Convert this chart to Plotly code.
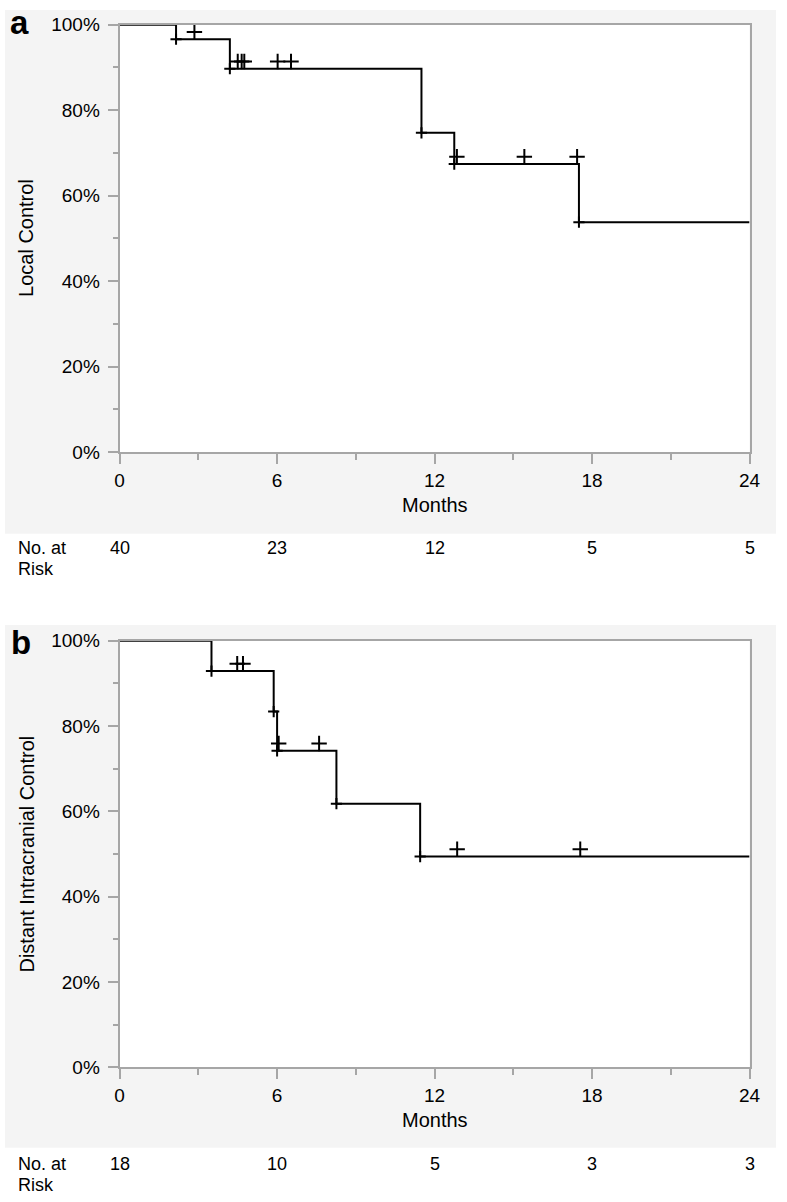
import plotly.graph_objects as go

# ---------------- data ----------------
# Panel a: Local Control
a_step_months = [0, 2.15, 4.2, 11.5, 12.75, 17.5, 24]
a_step_surv = [1.0, 0.966, 0.897, 0.747, 0.674, 0.538, 0.538]
a_event_months = [2.15, 4.2, 11.5, 12.75, 17.5]
a_event_surv = [0.966, 0.897, 0.747, 0.674, 0.538]
a_cens_months = [2.85, 4.5, 4.65, 4.75, 6.02, 6.53, 12.85, 15.42, 17.43]
a_cens_surv = [0.966, 0.897, 0.897, 0.897, 0.897, 0.897, 0.674, 0.674, 0.674]
a_risk_months = [0, 6, 12, 18, 24]
a_risk_n = [40, 23, 12, 5, 5]

# Panel b: Distant Intracranial Control
b_step_months = [0, 3.5, 5.87, 6.0, 8.26, 11.45, 24]
b_step_surv = [1.0, 0.929, 0.834, 0.742, 0.618, 0.494, 0.494]
b_event_months = [3.5, 5.87, 6.0, 8.26, 11.45]
b_event_surv = [0.929, 0.834, 0.742, 0.618, 0.494]
b_cens_months = [4.48, 4.7, 6.06, 7.6, 12.86, 17.55]
b_cens_surv = [0.929, 0.929, 0.742, 0.742, 0.494, 0.494]
b_risk_months = [0, 6, 12, 18, 24]
b_risk_n = [18, 10, 5, 3, 3]

x_ticks = [0, 6, 12, 18, 24]
y_ticks = [0, 0.2, 0.4, 0.6, 0.8, 1.0]
y_ticktext = ["0%", "20%", "40%", "60%", "80%", "100%"]

# ---------------- layout geometry (pixels) ----------------
W, H = 787, 1202
PX_L, PX_R = 117, 760
A_TOP, A_BOT = 15, 450
B_TOP, B_BOT = 642, 1076
CENS_OFFSET = 0.017   # censor marks drawn just above the curve

FONT = "Liberation Sans, Arial, Helvetica, sans-serif"
AXIS_GREY = "#a6a6a6"
BAND_GREY = "#f4f4f4"


def px_x(p):
    return p / W


def px_y(p):
    return 1 - p / H


fig = go.Figure()

panels = [
    ("x", "y", a_step_months, a_step_surv, a_event_months, a_event_surv, a_cens_months, a_cens_surv),
    ("x2", "y2", b_step_months, b_step_surv, b_event_months, b_event_surv, b_cens_months, b_cens_surv),
]
for xa, ya, sm, ss, em, es, cm, cs in panels:
    fig.add_trace(go.Scatter(x=sm, y=ss, mode="lines", line=dict(color="black", width=2, shape="hv"),
                             xaxis=xa, yaxis=ya, showlegend=False, hoverinfo="skip"))
    fig.add_trace(go.Scatter(x=em, y=es, mode="markers",
                             marker=dict(symbol="cross-thin", size=8, line=dict(color="black", width=2)),
                             xaxis=xa, yaxis=ya, showlegend=False, cliponaxis=False, hoverinfo="skip"))
    fig.add_trace(go.Scatter(x=cm, y=[v + CENS_OFFSET for v in cs], mode="markers",
                             marker=dict(symbol="cross-thin", size=11, line=dict(color="black", width=2)),
                             xaxis=xa, yaxis=ya, showlegend=False, cliponaxis=False, hoverinfo="skip"))

xaxis_common = dict(
    range=[0, 24], tickvals=x_ticks, ticks="outside", ticklen=10, tickwidth=2, tickcolor=AXIS_GREY,
    showline=True, linecolor=AXIS_GREY, linewidth=2, mirror=True, showgrid=False, zeroline=False,
    tickfont=dict(family=FONT, size=19, color="black"), ticklabelstandoff=0,
    minor=dict(dtick=3, ticks="outside", ticklen=6, tickwidth=2, tickcolor=AXIS_GREY, showgrid=False),
    domain=[px_x(PX_L), px_x(PX_R)], fixedrange=True,
)
yaxis_common = dict(
    range=[0, 1], tickvals=y_ticks, ticktext=y_ticktext, ticks="outside", ticklen=10, tickwidth=2,
    tickcolor=AXIS_GREY, showline=True, linecolor=AXIS_GREY, linewidth=2, mirror=True, showgrid=False,
    zeroline=False, tickfont=dict(family=FONT, size=19, color="black"), ticklabelstandoff=4,
    minor=dict(dtick=0.1, ticks="outside", ticklen=5, tickwidth=2, tickcolor=AXIS_GREY, showgrid=False),
    fixedrange=True,
)

fig.update_layout(
    width=W, height=H, margin=dict(l=0, r=0, t=0, b=0),
    paper_bgcolor="white", plot_bgcolor="white",
    xaxis=dict(**xaxis_common, anchor="y"),
    yaxis=dict(**yaxis_common, anchor="x", domain=[px_y(A_BOT), px_y(A_TOP)]),
    xaxis2=dict(**xaxis_common, anchor="y2"),
    yaxis2=dict(**yaxis_common, anchor="x2", domain=[px_y(B_BOT), px_y(B_TOP)]),
    font=dict(family=FONT, color="black"),
)

# background bands and white plot areas
shapes = []
for top, bot in [(0, 533), (626, 1158)]:
    shapes.append(dict(type="rect", xref="paper", yref="paper", x0=0, x1=1, y0=px_y(bot), y1=px_y(top),
                       fillcolor=BAND_GREY, line=dict(width=0), layer="below"))
for top, bot in [(A_TOP, A_BOT), (B_TOP, B_BOT)]:
    shapes.append(dict(type="rect", xref="paper", yref="paper", x0=px_x(PX_L), x1=px_x(PX_R),
                       y0=px_y(bot), y1=px_y(top), fillcolor="white", line=dict(width=0), layer="below"))
fig.update_layout(shapes=shapes)

ann = []


def txt(text, x, y, size=19, xanchor="center", bold=False, angle=0, xref="paper", **kw):
    ann.append(dict(text=("<b>%s</b>" % text) if bold else text, x=x if xref != "paper" else px_x(x),
                    y=px_y(y), xref=xref, yref="paper", xanchor=xanchor, yanchor="middle",
                    showarrow=False, textangle=angle, font=dict(family=FONT, size=size, color="black"), **kw))


# panel letters
txt("a", 15, 13, size=33, bold=True)
txt("b", 16, 644, size=33, bold=True)
# y titles
txt("Local Control", 22, (A_TOP + A_BOT) / 2, size=20, angle=-90)
txt("Distant Intracranial Control", 22, (B_TOP + B_BOT) / 2, size=20, angle=-90)
# x titles
txt("Months", (PX_L + PX_R) / 2, 504, size=20)
txt("Months", (PX_L + PX_R) / 2, 1130, size=20)
# risk tables
txt("No. at", 11, 548, size=18, xanchor="left")
txt("Risk", 11, 569, size=18, xanchor="left")
txt("No. at", 11, 1175, size=18, xanchor="left")
txt("Risk", 11, 1196, size=18, xanchor="left")
for m, n in zip(a_risk_months, a_risk_n):
    txt(str(n), m, 548, size=18, xref="x")
for m, n in zip(b_risk_months, b_risk_n):
    txt(str(n), m, 1175, size=18, xref="x2")

fig.update_layout(annotations=ann)

fig.write_html(
    "out.html",
    config=dict(displayModeBar=False, staticPlot=True),
    post_script="document.documentElement.style.margin='0';document.body.style.margin='0';"
                "document.body.style.padding='0';document.documentElement.style.overflow='hidden';",
)
